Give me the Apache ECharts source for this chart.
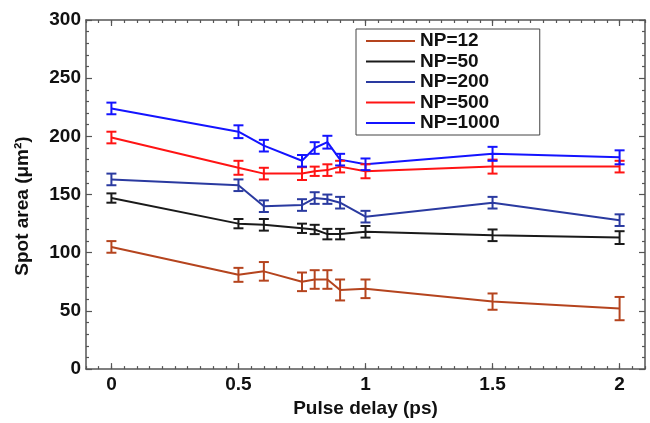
<!DOCTYPE html>
<html>
<head>
<meta charset="utf-8">
<script src="https://cdn.jsdelivr.net/npm/echarts@6/dist/echarts.min.js"></script>
<style>
html,body{margin:0;padding:0;background:#fff;}
#chart{width:650px;height:423px;}
</style>
</head>
<body>
<div id="chart"></div>
<script>
// ---- data ----
const pulseDelay = [0, 0.5, 0.6, 0.75, 0.8, 0.85, 0.9, 1, 1.5, 2];
const xTickLabels = [0, 0.5, 1, 1.5, 2];
const seriesNames = ['NP=12', 'NP=50', 'NP=200', 'NP=500', 'NP=1000'];
const np12 = [105, 81, 84, 75, 77, 77, 68, 69, 58, 52];
const np12Err = [5, 6, 8, 8, 8, 8, 9, 8, 7, 10];
const np50 = [147, 125, 124, 121, 120, 116, 116, 118, 115, 113];
const np50Err = [4, 4, 5, 4, 4, 4.5, 4.5, 5, 5, 5.5];
const np200 = [163, 158, 140, 141, 147, 146, 143, 131, 143, 128];
const np200Err = [5, 5, 5, 5, 5, 4, 5, 5, 5, 5];
const np500 = [199, 173, 168, 168, 170, 171, 174, 170, 174, 174];
const np500Err = [5, 6, 5, 5.5, 4, 5, 5, 6, 6, 5];
const np1000 = [224, 204, 192, 179, 190, 195, 180, 176, 185, 182];
const np1000Err = [5, 5.5, 5, 5, 5, 5.5, 5, 5, 6, 6];

const values = [np12, np50, np200, np500, np1000];
const errors = [np12Err, np50Err, np200Err, np500Err, np1000Err];
const colors = ['#B5441E', '#1a1a1a', '#2A3AA0', '#FF1414', '#1414FF'];

const font = 'Liberation Sans, Arial, sans-serif';
const axisColor = '#555';

const series = [];
seriesNames.forEach((name, i) => {
  series.push({
    name: name,
    type: 'line',
    xAxisIndex: 0, yAxisIndex: 0,
    symbol: 'none',
    lineStyle: {color: colors[i], width: 2},
    itemStyle: {color: colors[i]},
    data: pulseDelay.map((x, k) => [x, values[i][k]]),
    z: 2
  });
  const col = colors[i];
  series.push({
    name: 'err' + i,
    type: 'custom',
    xAxisIndex: 0, yAxisIndex: 0,
    data: pulseDelay.map((x, k) => [x, values[i][k] - errors[i][k], values[i][k] + errors[i][k]]),
    encode: {x: 0, y: [1, 2]},
    renderItem: function (params, api) {
      const x = api.value(0), lo = api.value(1), hi = api.value(2);
      const pLo = api.coord([x, lo]), pHi = api.coord([x, hi]);
      const hw = 5;
      const style = {stroke: col, lineWidth: 2};
      return {type: 'group', children: [
        {type: 'line', shape: {x1: pLo[0], y1: pLo[1], x2: pHi[0], y2: pHi[1]}, style: style},
        {type: 'line', shape: {x1: pLo[0] - hw, y1: pLo[1], x2: pLo[0] + hw, y2: pLo[1]}, style: style},
        {type: 'line', shape: {x1: pHi[0] - hw, y1: pHi[1], x2: pHi[0] + hw, y2: pHi[1]}, style: style}
      ]};
    },
    z: 3
  });
});

function xAxisDef(position, major, showLabel) {
  const def = {
    type: 'value', position: position, min: -0.1, max: 2.1,
    axisLine: {show: major, onZero: false, lineStyle: {color: axisColor, width: 1.5}},
    splitLine: {show: false},
    axisTick: {show: true, inside: true, length: major ? 6 : 3, lineStyle: {color: axisColor, width: 1.2}},
    axisLabel: {show: showLabel, color: '#111', fontSize: 19, fontWeight: 'bold', fontFamily: font, margin: 6}
  };
  if (major) {
    def.axisTick.customValues = xTickLabels;
    def.axisLabel.customValues = xTickLabels;
  } else {
    def.interval = 0.05;
  }
  return def;
}

const option = {
  backgroundColor: '#fff',
  animation: false,
  grid: {left: 86, top: 20, right: 5, bottom: 50, containLabel: false},
  legend: {
    data: seriesNames,
    orient: 'vertical',
    left: 356, top: 29,
    padding: [2, 40, 2, 10],
    itemGap: 0.5,
    itemWidth: 49,
    itemHeight: 2,
    icon: 'rect',
    backgroundColor: '#fff',
    borderColor: '#444',
    borderWidth: 1,
    textStyle: {fontSize: 19, fontWeight: 'bold', fontFamily: font, color: '#111', lineHeight: 20}
  },
  xAxis: [
    Object.assign(xAxisDef('bottom', true, true), {
      name: 'Pulse delay (ps)', nameLocation: 'middle', nameGap: 28,
      nameTextStyle: {fontSize: 19, fontWeight: 'bold', fontFamily: font, color: '#111'}
    }),
    xAxisDef('bottom', false, false),
    xAxisDef('top', true, false),
    xAxisDef('top', false, false)
  ],
  yAxis: [
    {
      type: 'value', position: 'left', min: 0, max: 300, interval: 50,
      name: 'Spot area (μm²)', nameLocation: 'middle', nameGap: 54,
      nameTextStyle: {fontSize: 19, fontWeight: 'bold', fontFamily: font, color: '#111', padding: [0, 23, 0, 0]},
      axisLine: {show: true, onZero: false, lineStyle: {color: axisColor, width: 1.5}},
      splitLine: {show: false},
      axisTick: {show: true, inside: true, length: 6, lineStyle: {color: axisColor, width: 1.2}},
      minorTick: {show: true, splitNumber: 5, length: 3, lineStyle: {color: axisColor, width: 1.2}},
      minorSplitLine: {show: false},
      axisLabel: {color: '#111', fontSize: 19, fontWeight: 'bold', fontFamily: font, margin: 5}
    },
    {
      type: 'value', position: 'right', min: 0, max: 300, interval: 50,
      axisLine: {show: true, onZero: false, lineStyle: {color: axisColor, width: 1.5}},
      splitLine: {show: false},
      axisTick: {show: true, inside: true, length: 6, lineStyle: {color: axisColor, width: 1.2}},
      minorTick: {show: true, splitNumber: 5, length: 3, lineStyle: {color: axisColor, width: 1.2}},
      minorSplitLine: {show: false},
      axisLabel: {show: false}
    }
  ],
  series: series
};

const chart = echarts.init(document.getElementById('chart'), null, {renderer: 'canvas'});
chart.setOption(option);
</script>
</body>
</html>
